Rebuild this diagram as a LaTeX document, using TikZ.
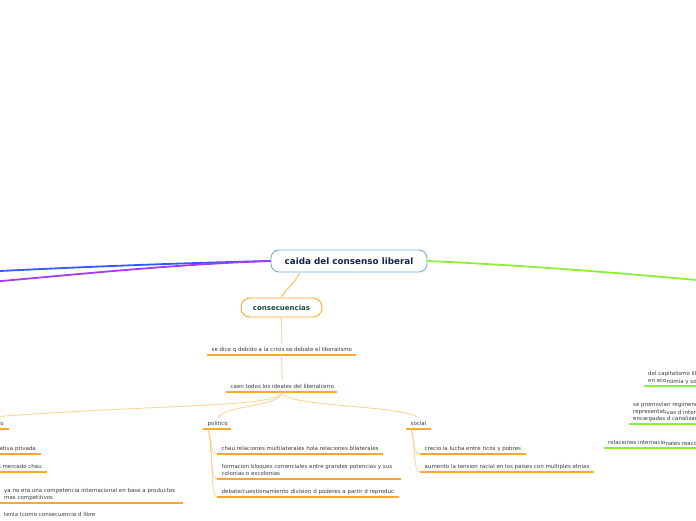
\documentclass[tikz,border=0pt]{standalone}
\usepackage{fontspec}
\setmainfont{DejaVu Sans}
\usetikzlibrary{calc}
\definecolor{mainblue}{HTML}{6EB0E6}
\definecolor{titletext}{HTML}{14244A}
\definecolor{blueline}{HTML}{2E5BFF}
\definecolor{purpleline}{HTML}{A53BF5}
\definecolor{greenline}{HTML}{8BF03C}
\definecolor{orangeul}{HTML}{FFA630}
\definecolor{lightorange}{HTML}{FFCF8F}
\definecolor{constext}{HTML}{1B4D3E}
\definecolor{itemtext}{HTML}{3A3A3A}
\newcommand\smallfnt{\fontsize{5.5}{7}\selectfont}
\newcommand\lowpart[1]{\raisebox{-1.2pt}{#1}}
\tikzset{
  mainbox/.style={draw=mainblue, line width=0.9pt, fill=white, rounded corners=8pt,
    minimum width=156pt, minimum height=22pt, inner sep=0pt,
    font=\fontsize{8.8}{10}\selectfont\bfseries, text=titletext},
  consbox/.style={draw=orangeul, line width=0.9pt, fill=white, rounded corners=9pt,
    minimum width=81pt, minimum height=19pt, inner sep=0pt,
    font=\fontsize{7}{8}\selectfont\bfseries, text=constext},
  item/.style={anchor=south west, inner xsep=4.5pt, inner ysep=2.5pt, align=left,
    font=\smallfnt, text=itemtext, text depth=1.3pt},
  itemr/.style={item, anchor=south east, align=right},
  ul/.style={draw=orangeul, line width=1.8pt},
  gul/.style={draw=greenline, line width=1.8pt},
  conn/.style={draw=lightorange, line width=0.8pt},
  mainconn/.style={draw=orangeul!80, line width=0.9pt},
  thick line/.style={line width=1.8pt},
}
\begin{document}
\begin{tikzpicture}[x=1pt,y=-1pt]
\useasboundingbox (0,0) rectangle (696,520);

% main lines
\coordinate (bl) at (-4,271.2);
\coordinate (pl) at (-4,281.5);
\coordinate (gr) at (700,280.3);

\node[mainbox] (main) at (349,261) {caida del consenso liberal};
\node[consbox] (cons) at (281.5,307.5) {consecuencias};

\draw[blueline, thick line] (main.west) .. controls (180,263) and (80,267) .. (bl);
\draw[purpleline, thick line] (main.west) .. controls (180,264) and (80,274) .. (pl);
\draw[greenline, thick line] (main.east) .. controls (520,265) and (620,273) .. (gr);

\draw[mainconn] ($(main.south west)+(29,0)$) .. controls (295,284) and (284,290) .. (cons.north);

% level texts
\node[item] (t1) at (207,355) {se dice q debido a la crisis se debate el liberalismo};
\draw[ul] (t1.south west) -- ++(149,0);
\node[item] (t2) at (226,392) {caen todos los ideales del liberalismo};
\draw[ul] (t2.south west) -- ++(111,0);

\draw[conn] (cons.south) -- (t1.north);
\draw[conn] ($(t1.south west)+(74.5,0)$) -- (t2.north);

% branches
\node[item] (pol) at (203,429) {politico};
\draw[ul] (pol.south west) -- ++(28,0);
\node[item] (soc) at (406,429) {social};
\draw[ul] (soc.south west) -- ++(25,0);
\node[itemr] (lft) at (8.5,429) {o};
\draw[ul] (lft.south east) -- ++(-30,0);

\coordinate (junc) at ($(t2.south west)+(55.5,0)$);
\coordinate (lend) at (-20,418);
\draw[conn] (junc) .. controls (281.5,407) and (224,405) .. (pol.north);
\draw[conn] (junc) .. controls (281.5,407) and (407,405) .. (soc.north);
\draw[conn] (junc) .. controls (281.5,408) and (150,404) .. (lend);

% politico children
\node[item] (p1) at (217,454) {chau relaciones multilaterales hola relaciones bilaterales};
\draw[ul] (p1.south west) -- ++(166,0);
\node[item] (p2) at (217,479) {formacion bloques comerciales entre grandes potencias y sus\\colonias o excolonias};
\draw[ul] (p2.south west) -- ++(184,0);
\node[item] (p3) at (217,497) {debate/cuestionamiento division d poderes a partir d reproduc};
\draw[ul] (p3.south west) -- ++(182,0);
\coordinate (pst) at ($(pol.south west)+(5,0)$);
\draw[conn] (pst) .. controls (212,440) and (210,454) .. (p1.south west);
\draw[conn] (pst) .. controls (213,448) and (210,479) .. (p2.south west);
\draw[conn] (pst) .. controls (214,455) and (210,497) .. (p3.south west);

% social children
\node[item] (s1) at (420,454) {crecio la lucha entre ricos y pobres};
\draw[ul] (s1.south west) -- ++(106,0);
\node[item] (s2) at (420,472) {aumento la tension racial en los paises con multiples etnias};
\draw[ul] (s2.south west) -- ++(174,0);
\coordinate (sst) at ($(soc.south west)+(5,0)$);
\draw[conn] (sst) .. controls (415,440) and (413,454) .. (s1.south west);
\draw[conn] (sst) .. controls (416,448) and (413,472) .. (s2.south west);

% left children
\node[itemr] (l1) at (40.5,454) {ativa privada};
\draw[ul] (l1.south east) -- ++(-60,0);
\node[itemr] (l2) at (46.5,472) {n mercado chau};
\draw[ul] (l2.south east) -- ++(-70,0);
\node[item] (l3) at (-0.5,503) {ya no era una competencia internacional en base a productos\\mas competitivos};
\draw[ul] (l3.south west) -- ++(183.5,0);
\node[item, anchor=north west] (l4) at (-0.5,509.5) {tenia (como consecuencia d libre};

% right children
\node[item] (r1) at (643.5,386) {del capitalismo lib\\en eco\lowpart{nomia y so}};
\draw[gul] (r1.south west) -- ++(80,0);
\node[item] (r2) at (628.5,424) {se promovian regimene\\representat\lowpart{ivas d inter}\\encargadas d canalizar};
\draw[gul] (r2.south west) -- ++(90,0);
\node[item] (r3) at (603.5,448) {relaciones internacio\lowpart{nales reacc}};
\draw[gul] (r3.south west) -- ++(110,0);
\end{tikzpicture}
\end{document}
